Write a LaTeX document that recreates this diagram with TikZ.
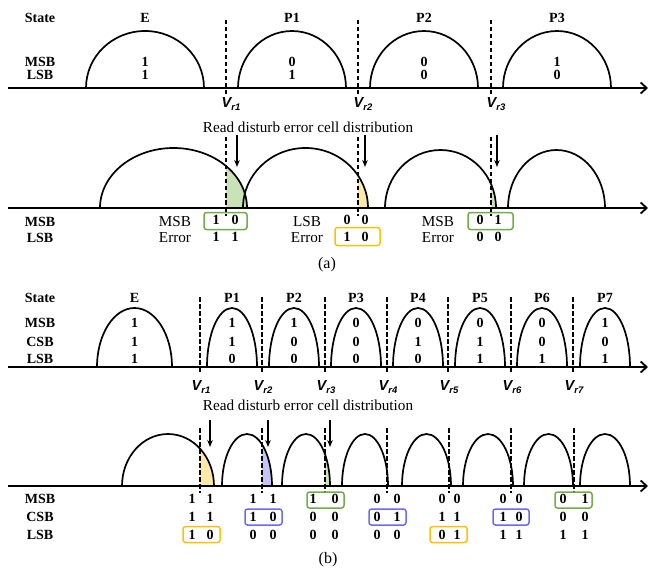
\documentclass[tikz,border=0pt]{standalone}
\usepackage{fontspec}
\setmainfont{Liberation Serif}
\newfontfamily\vfont{Liberation Sans}
\usetikzlibrary{arrows.meta}

\definecolor{boxgreen}{RGB}{112,173,71}
\definecolor{boxorange}{RGB}{255,192,0}
\definecolor{boxblue}{RGB}{105,105,250}
\definecolor{fillgreen}{RGB}{201,226,184}
\definecolor{fillyellow}{RGB}{255,233,168}
\definecolor{fillblue}{RGB}{197,197,245}

% half-ellipse hump: left x, right x, height, base y (y grows downwards)
\newcommand\hump[4]{({#1},{#4})
  .. controls ({#1},{(#4)-0.5523*(#3)}) and ({((#1)+(#2))/2-0.5523*((#2)-(#1))/2},{(#4)-(#3)}) .. ({((#1)+(#2))/2},{(#4)-(#3)})
  .. controls ({((#1)+(#2))/2+0.5523*((#2)-(#1))/2},{(#4)-(#3)}) and ({#2},{(#4)-0.5523*(#3)}) .. ({#2},{#4})}

% read reference voltage label
\newcommand\vrlabel[1]{{\vfont\bfseries\itshape V}\raisebox{-0.45ex}{\vfont\bfseries\itshape\fontsize{9.5}{9.5}\selectfont r#1}}

\tikzset{
  lbl/.style={font=\fontsize{14}{15}\selectfont\bfseries, inner sep=0pt},
  bit/.style={font=\fontsize{14}{15}\selectfont\bfseries, inner sep=0pt},
  txt/.style={font=\fontsize{15.2}{16}\selectfont, inner sep=0pt},
  subcap/.style={font=\fontsize{16}{17}\selectfont, inner sep=0pt},
  vlab/.style={font=\fontsize{14.5}{15}\selectfont, inner sep=0pt},
  humpline/.style={line width=1.7pt},
  vline/.style={line width=1.4pt, dash pattern=on 4.5pt off 2.5pt},
  axisline/.style={line width=1.8pt, -{Straight Barb[length=6pt,width=11pt]}},
  darrow/.style={line width=1.4pt, -{Stealth[length=7pt,width=5.5pt]}},
  gbox/.style={draw=boxgreen, line width=1.5pt, rounded corners=2.5pt, inner sep=0pt},
  obox/.style={draw=boxorange, line width=1.5pt, rounded corners=2.5pt, inner sep=0pt},
  bbox/.style={draw=boxblue, line width=1.5pt, rounded corners=2.5pt, inner sep=0pt},
}

\begin{document}
\begin{tikzpicture}[x=1pt,y=-1pt]
\useasboundingbox (0,0) rectangle (650,572);

% ================= (a) MLC: state distribution =================
\node[lbl] (sta) at (40,18) {State};
\node[lbl] (msba) at (40,62) {MSB};
\node[lbl] (lsba) at (40,75) {LSB};

\draw[humpline] \hump{86}{204}{57}{88};
\node[lbl] (sa0) at (145,18) {E};
\node[bit] (ma0) at (145,62) {1};
\node[bit] (la0) at (145,75) {1};
\foreach \c/\n/\m/\l [count=\i] in {292/P1/0/1, 424/P2/0/0, 557/P3/1/0} {
  \draw[humpline] \hump{\c-54}{\c+54}{57}{88};
  \node[lbl] (sa\i) at (\c,18) {\n};
  \node[bit] (ma\i) at (\c,62) {\m};
  \node[bit] (la\i) at (\c,75) {\l};
}
\foreach \x [count=\i] in {226,358,491} {
  \draw[vline] (\x,20) -- (\x,95);
  \node[vlab] (va\i) at (\x+5,104) {\vrlabel{\i}};
}
\draw[axisline] (8,88) -- (648,88);

% ================= (a) after read disturb =================
\node[txt] (rda) at (308,127) {Read disturb error cell distribution};

\begin{scope}
  \clip (226,100) rectangle (260,208);
  \fill[fillgreen] \hump{100}{247}{60}{208} -- cycle;
\end{scope}
\begin{scope}
  \clip (358,100) rectangle (380,208);
  \fill[fillyellow] \hump{243}{368}{60}{208} -- cycle;
\end{scope}
\begin{scope}
  \clip (491,100) rectangle (510,208);
  \fill[fillgreen] \hump{385}{496}{58}{208} -- cycle;
\end{scope}

\draw[humpline] \hump{100}{247}{60}{208};
\draw[humpline] \hump{243}{368}{60}{208};
\draw[humpline] \hump{385}{496}{58}{208};
\draw[humpline] \hump{508}{605}{58}{208};

\foreach \x/\a [count=\i] in {226/237, 358/365, 491/497} {
  \draw[vline] (\x,137) -- (\x,216);
  \coordinate (ta\i) at (\a,135);
  \coordinate (ha\i) at (\a,167);
  \draw[darrow] (ta\i) -- (ha\i);
}
\draw[axisline] (8,208) -- (648,208);

\node[lbl] (msbe) at (40,222) {MSB};
\node[lbl] (lsbe) at (40,238) {LSB};

\node[txt] (ea1) at (175,222) {MSB};
\node[txt] (eb1) at (175,238) {Error};
\node[txt] (ea2) at (307,222) {LSB};
\node[txt] (eb2) at (307,238) {Error};
\node[txt] (ea3) at (438,222) {MSB};
\node[txt] (eb3) at (438,238) {Error};

\node[gbox, minimum width=43pt, minimum height=17pt] (bxa1) at (225.5,221) {};
\node[bit] at (216,220) {1};  \node[bit] at (235,220) {0};
\node[bit] at (216,237) {1};  \node[bit] at (235,237) {1};

\node[obox, minimum width=45pt, minimum height=18pt] (bxa2) at (357.5,236.5) {};
\node[bit] at (347,220) {0};  \node[bit] at (365,220) {0};
\node[bit] at (347,237) {1};  \node[bit] at (365,237) {0};

\node[gbox, minimum width=45pt, minimum height=17pt] (bxa3) at (490.5,221) {};
\node[bit] at (480,220) {0};  \node[bit] at (498,220) {1};
\node[bit] at (480,237) {0};  \node[bit] at (498,237) {0};

\node[subcap] (capa) at (327,265) {(a)};

% ================= (b) TLC: state distribution =================
\node[lbl] (stb) at (40,298) {State};
\node[lbl] (msbb) at (40,323) {MSB};
\node[lbl] (csbb) at (40,342) {CSB};
\node[lbl] (lsbb) at (40,359) {LSB};

\draw[humpline] \hump{97}{172}{59}{367};
\node[lbl] (sb0) at (134.5,298) {E};
\node[bit] (mb0) at (134.5,323) {1};
\node[bit] (cb0) at (134.5,342) {1};
\node[bit] (lb0) at (134.5,359) {1};
\foreach \c/\n/\m/\s/\l [count=\i] in {232/P1/1/1/0, 294/P2/1/0/0, 356/P3/0/0/0, 418/P4/0/1/0, 480/P5/0/1/1, 542/P6/0/0/1, 605/P7/1/0/1} {
  \draw[humpline] \hump{\c-25}{\c+25}{59}{367};
  \node[lbl] (sb\i) at (\c,298) {\n};
  \node[bit] (mb\i) at (\c,323) {\m};
  \node[bit] (cb\i) at (\c,342) {\s};
  \node[bit] (lb\i) at (\c,359) {\l};
}
\foreach \x [count=\i] in {200,262,325,387,448,511,573} {
  \draw[vline] (\x,297) -- (\x,372);
  \node[vlab] (vb\i) at (\x+1,387) {\vrlabel{\i}};
}
\draw[axisline] (8,367) -- (648,367);

% ================= (b) after read disturb =================
\node[txt] (rdb) at (308,405) {Read disturb error cell distribution};

\begin{scope}
  \clip (200,420) rectangle (220,486);
  \fill[fillyellow] \hump{122}{214}{52}{486} -- cycle;
\end{scope}
\begin{scope}
  \clip (262,420) rectangle (280,486);
  \fill[fillblue] \hump{222}{272}{52}{486} -- cycle;
\end{scope}
\begin{scope}
  \clip (325,420) rectangle (340,486);
  \fill[fillgreen] \hump{282}{330}{52}{486} -- cycle;
\end{scope}

\draw[humpline] \hump{122}{214}{52}{486};
\foreach \l/\r in {222/272, 282/330, 342/388, 402/451, 463/513, 524/573, 580/630}
  \draw[humpline] \hump{\l}{\r}{52}{486};

\foreach \x in {200,262,325,387,449,511,574}
  \draw[vline] (\x,428) -- (\x,493);
\foreach \a [count=\i] in {210,268,330} {
  \coordinate (tb\i) at (\a,420);
  \coordinate (hb\i) at (\a,447);
  \draw[darrow] (tb\i) -- (hb\i);
}
\draw[axisline] (8,486) -- (648,486);

\node[lbl] (msbf) at (40,499) {MSB};
\node[lbl] (csbf) at (40,517) {CSB};
\node[lbl] (lsbf) at (40,535) {LSB};

% error boxes
\node[obox, minimum width=37pt, minimum height=16pt] (bxb1) at (201.5,534.5) {};
\node[bbox, minimum width=37pt, minimum height=16pt] (bxb2) at (263.5,517) {};
\node[gbox, minimum width=37pt, minimum height=16pt] (bxb3) at (325.5,500) {};
\node[bbox, minimum width=37pt, minimum height=16pt] (bxb4) at (387.5,517) {};
\node[obox, minimum width=37pt, minimum height=16pt] (bxb5) at (448.5,534.5) {};
\node[bbox, minimum width=36pt, minimum height=16pt] (bxb6) at (511,517) {};
\node[gbox, minimum width=37pt, minimum height=16pt] (bxb7) at (573.5,500) {};

% bit pairs on both sides of each read voltage
\foreach \p/\q/\ma/\mb/\ca/\cb/\la/\lb [count=\i] in {
  192/210/1/1/1/1/1/0,
  253/273/1/1/1/0/0/0,
  313/335/1/0/0/0/0/0,
  377/397/0/0/0/1/0/0,
  442/457/0/0/1/1/0/1,
  503/519/0/0/1/0/1/1,
  563/585/0/1/0/0/1/1} {
  \node[bit] (pm\i) at (\p,499) {\ma};
  \node[bit] (qm\i) at (\q,499) {\mb};
  \node[bit] (pc\i) at (\p,517) {\ca};
  \node[bit] (qc\i) at (\q,517) {\cb};
  \node[bit] (pl\i) at (\p,535) {\la};
  \node[bit] (ql\i) at (\q,535) {\lb};
}

\node[subcap] (capb) at (328,560) {(b)};
\end{tikzpicture}
\end{document}
